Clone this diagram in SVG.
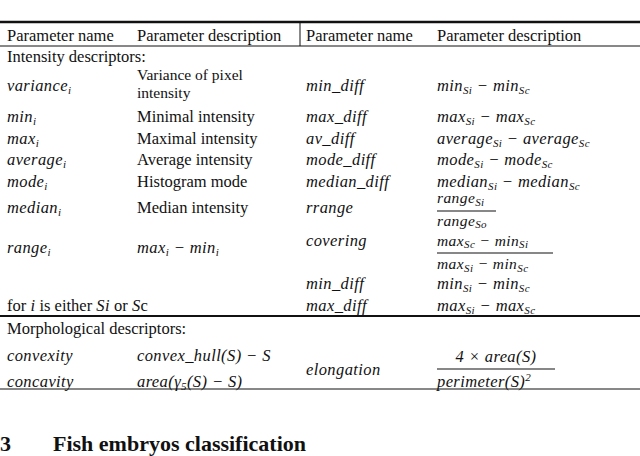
<svg xmlns="http://www.w3.org/2000/svg" width="640" height="456" viewBox="0 0 640 456">
<style>
text{font-family:"Liberation Serif",serif;font-size:16.5px;fill:#111}
.m{font-style:italic;font-size:16.5px;letter-spacing:0.4px}
.f{font-size:15.5px}
.s{font-size:11px;font-style:italic}
.h{font-weight:bold;font-size:22px}
line{stroke:#111}
</style>
<rect width="640" height="456" fill="#fff"/>
<g id="rules">
<line x1="0" y1="22" x2="640" y2="22" stroke-width="2.5"/>
<line x1="300" y1="22" x2="300" y2="46" stroke-width="1"/>
<line x1="0" y1="46" x2="640" y2="46" stroke-width="1"/>
<line x1="0" y1="316" x2="640" y2="316" stroke-width="2"/>
<line x1="0" y1="389" x2="640" y2="389" stroke-width="1"/>
<line x1="437" y1="211" x2="496" y2="211" stroke-width="1.2"/>
<line x1="437" y1="253" x2="553" y2="253" stroke-width="1.2"/>
<line x1="437" y1="369" x2="555" y2="369" stroke-width="1.2"/>
</g>
<g id="header">
<text x="7" y="41">Parameter name</text>
<text x="137" y="41">Parameter description</text>
<text x="306" y="41">Parameter name</text>
<text x="437" y="41">Parameter description</text>
</g>
<g id="intensity">
<text x="7" y="62">Intensity descriptors:</text>
<text class="m" x="7" y="91">variance<tspan class="s" dy="3">i</tspan></text>
<text class="f" x="137" y="80">Variance of pixel</text>
<text class="f" x="137" y="98">intensity</text>
<text class="m" x="306" y="91">min_diff</text>
<text class="m" x="437" y="91">min<tspan class="s" dy="3">Si</tspan><tspan dy="-3"> − min</tspan><tspan class="s" dy="3">Sc</tspan></text>

<text class="m" x="7" y="122">min<tspan class="s" dy="3">i</tspan></text>
<text x="137" y="122">Minimal intensity</text>
<text class="m" x="306" y="122">max_diff</text>
<text class="m" x="437" y="122">max<tspan class="s" dy="3">Si</tspan><tspan dy="-3"> − max</tspan><tspan class="s" dy="3">Sc</tspan></text>

<text class="m" x="7" y="144">max<tspan class="s" dy="3">i</tspan></text>
<text x="137" y="144">Maximal intensity</text>
<text class="m" x="306" y="144">av_diff</text>
<text class="m" x="437" y="144">average<tspan class="s" dy="3">Si</tspan><tspan dy="-3"> − average</tspan><tspan class="s" dy="3">Sc</tspan></text>

<text class="m" x="7" y="165">average<tspan class="s" dy="3">i</tspan></text>
<text x="137" y="165">Average intensity</text>
<text class="m" x="306" y="165">mode_diff</text>
<text class="m" x="437" y="165">mode<tspan class="s" dy="3">Si</tspan><tspan dy="-3"> − mode</tspan><tspan class="s" dy="3">Sc</tspan></text>

<text class="m" x="7" y="187">mode<tspan class="s" dy="3">i</tspan></text>
<text x="137" y="187">Histogram mode</text>
<text class="m" x="306" y="187">median_diff</text>
<text class="m" x="437" y="187">median<tspan class="s" dy="3">Si</tspan><tspan dy="-3"> − median</tspan><tspan class="s" dy="3">Sc</tspan></text>

<text class="m" x="7" y="213">median<tspan class="s" dy="3">i</tspan></text>
<text x="137" y="213">Median intensity</text>
<text class="m" x="306" y="213">rrange</text>
<text class="m f" x="437" y="203">range<tspan class="s" dy="3">Si</tspan></text>
<text class="m f" x="437" y="226">range<tspan class="s" dy="2">So</tspan></text>

<text class="m" x="7" y="253">range<tspan class="s" dy="3">i</tspan></text>
<text class="m" x="137" y="253">max<tspan class="s" dy="3">i</tspan><tspan dy="-3"> − min</tspan><tspan class="s" dy="3">i</tspan></text>
<text class="m" x="306" y="246">covering</text>
<text class="m f" x="437" y="246">max<tspan class="s" dy="2">Sc</tspan><tspan dy="-2"> − min</tspan><tspan class="s" dy="2">Si</tspan></text>
<text class="m f" x="437" y="269">max<tspan class="s" dy="3">Si</tspan><tspan dy="-3"> − min</tspan><tspan class="s" dy="3">Sc</tspan></text>

<text class="m" x="306" y="289">min_diff</text>
<text class="m" x="437" y="289">min<tspan class="s" dy="3">Si</tspan><tspan dy="-3"> − min</tspan><tspan class="s" dy="3">Sc</tspan></text>
<text x="7" y="311">for <tspan class="m">i</tspan> is either <tspan class="m">Si</tspan> or <tspan class="m">S</tspan>c</text>
<text class="m" x="306" y="311">max_diff</text>
<text class="m" x="437" y="311">max<tspan class="s" dy="3">Si</tspan><tspan dy="-3"> − max</tspan><tspan class="s" dy="3">Sc</tspan></text>
</g>
<g id="morph">
<text x="7" y="334">Morphological descriptors:</text>
<text class="m" x="7" y="361">convexity</text>
<text class="m" x="137" y="361">convex_hull(S) − S</text>
<text class="m" x="7" y="387">concavity</text>
<text class="m" x="137" y="387">area(γ<tspan class="s" dy="3">5</tspan><tspan dy="-3">(S) − S)</tspan></text>
<text class="m" x="306" y="375">elongation</text>
<text class="m" x="496" y="362" text-anchor="middle">4 × area(S)</text>
<text class="m" x="437" y="387">perimeter(S)<tspan class="s" dy="-6">2</tspan></text>
</g>
<text class="h" x="0" y="451">3</text>
<text class="h" x="53" y="451">Fish embryos classification</text>
</svg>
